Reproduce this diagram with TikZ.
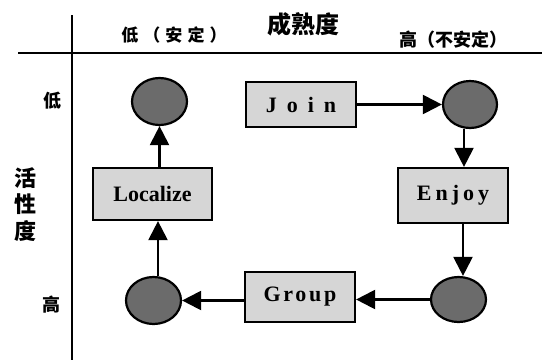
\documentclass[tikz,border=0pt]{standalone}
\usepackage{fontspec}
\setmainfont{Liberation Serif}
\newfontfamily\cjk{Noto Sans CJK SC}
\usetikzlibrary{arrows.meta,shapes.geometric,calc}
\definecolor{boxfill}{gray}{0.84}
\definecolor{ballfill}{gray}{0.42}
\tikzset{
  ball/.style={ellipse,draw=black,line width=2.2pt,fill=ballfill,inner sep=0pt},
  stepbox/.style={rectangle,draw=black,line width=2.2pt,fill=boxfill,inner sep=0pt,
    font=\fontsize{22}{24}\selectfont\bfseries},
  arr/.style={line width=2.2pt,-{Triangle[length=19pt,width=19pt]}},
  axis/.style={line width=2.2pt},
  lab/.style={inner sep=0pt,font=\cjk\bfseries\fontsize{18}{20}\selectfont}
}
\begin{document}
\begin{tikzpicture}[x=1pt,y=-1pt]
\useasboundingbox (0,0) rectangle (542,360);
% axes
\coordinate (vtop) at (72,15);
\coordinate (vbot) at (72,360);
\coordinate (hl) at (18,53);
\coordinate (hr) at (542,53);
\draw[axis] (vtop) -- (vbot);
\draw[axis] (hl) -- (hr);
% labels
\node[lab,font=\cjk\bfseries\fontsize{24}{26}\selectfont] (title) at (303,24) {成熟度};
\node[lab,font=\cjk\bfseries\fontsize{17}{20}\selectfont\addfontfeature{LetterSpace=30}] (low) at (174,35) {低（安定）};
\node[lab] (high) at (453,40) {高（不安定）};
\node[lab] (ylow) at (52,101) {低};
\node[lab] (yhigh) at (51,305) {高};
\node[lab,font=\cjk\bfseries\fontsize{22}{26.5}\selectfont,align=center] (ytitle) at (26,204.5) {活\\性\\度};
% nodes
\node[ball,minimum width=55pt,minimum height=47pt] (e1) at (159.5,101.5) {};
\node[stepbox,minimum width=110pt,minimum height=45pt] (join) at (301,104.5) {\addfontfeature{LetterSpace=45}Join};
\node[ball,minimum width=54pt,minimum height=47pt] (e2) at (470,104.5) {};
\node[stepbox,minimum width=110pt,minimum height=55pt] (enjoy) at (453,195.5) {\addfontfeature{LetterSpace=18}Enjoy};
\node[ball,minimum width=55pt,minimum height=45pt] (e3) at (458.5,299.5) {};
\node[stepbox,minimum width=110pt,minimum height=50pt] (group) at (300,297) {\addfontfeature{LetterSpace=12}Group};
\node[ball,minimum width=55pt,minimum height=47pt] (e4) at (153.5,300.5) {};
\node[stepbox,minimum width=119pt,minimum height=52pt] (localize) at (152.5,194) {Localize};
% connectors
\draw[arr] (join.east) -- (join.east -| e2.west);
\draw[arr] ([xshift=-6pt]e2.south) -- ([xshift=-6pt]e2.south |- enjoy.north);
\draw[arr] ([xshift=10pt]enjoy.south) -- ([xshift=10pt]enjoy.south |- e3.north);
\draw[arr] (e3.west) -- (e3.west -| group.east);
\draw[arr] (group.west |- e4.east) -- (e4.east);
\draw[arr] ([xshift=4.5pt]e4.north) -- ([xshift=4.5pt]e4.north |- localize.south);
\draw[arr] (e1.south |- localize.north) -- (e1.south);
\end{tikzpicture}
\end{document}
